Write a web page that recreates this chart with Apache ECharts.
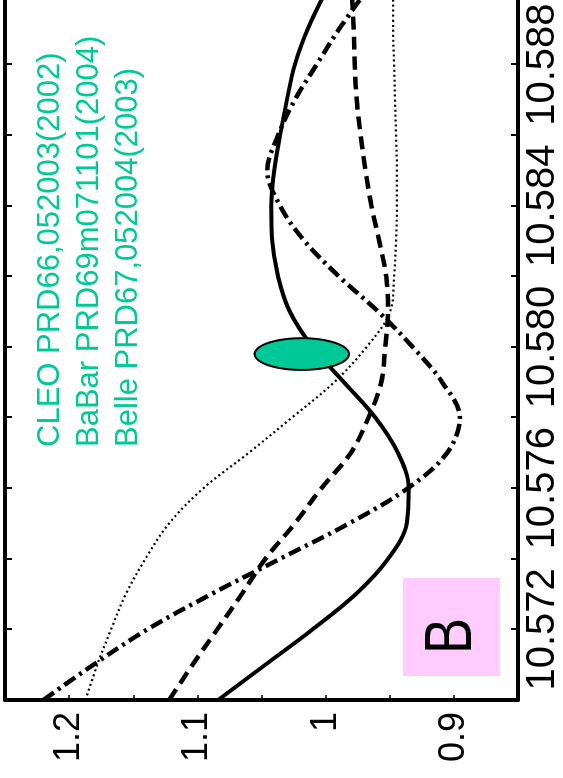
<!DOCTYPE html>
<html>
<head>
<meta charset="utf-8">
<title>Upsilon(4S) line shape</title>
<script src="https://cdn.jsdelivr.net/npm/echarts@6/dist/echarts.min.js"></script>
<style>
  html, body { margin: 0; padding: 0; background: #ffffff; overflow: hidden; width: 563px; height: 778px; }
  /* the plot is laid out landscape and turned a quarter turn counter-clockwise */
  #chart {
    position: absolute; left: 0; top: 0;
    width: 800px; height: 563px;
    transform-origin: 0 0;
    transform: translate(0px, 778px) rotate(-90deg);
  }
</style>
</head>
<body>
<div id="chart"></div>
<script>
// beam energy grid (GeV)
const energies = [10.570, 10.571, 10.572, 10.573, 10.574, 10.575, 10.576, 10.577, 10.578, 10.579,
                  10.580, 10.581, 10.582, 10.583, 10.584, 10.585, 10.586, 10.587, 10.588, 10.589, 10.590];

// model curves, one value per energy
const curveSolid   = [1.0838, 1.0470, 1.0102, 0.9765, 0.9513, 0.9367, 0.9352, 0.9436, 0.9612, 0.9857,
                      1.0102, 1.0279, 1.0371, 1.0416, 1.0424, 1.0401, 1.0355, 1.0302, 1.0240, 1.0141, 1.0010];
const curveDashed  = [1.1221, 1.1037, 1.0845, 1.0654, 1.0470, 1.0240, 1.0033, 0.9804, 0.9666, 0.9566,
                      0.9536, 0.9513, 0.9528, 0.9582, 0.9643, 0.9689, 0.9727, 0.9758, 0.9773, 0.9781, 0.9796];
const curveDashDot = [1.2201, 1.1810, 1.1390, 1.0891, 1.0355, 0.9819, 0.9359, 0.9053, 0.8953, 0.9091,
                      0.9321, 0.9589, 0.9896, 1.0164, 1.0355, 1.0455, 1.0370, 1.0240, 1.0070, 0.9896, 0.9700];
const curveDotted  = [1.1872, 1.1780, 1.1673, 1.1558, 1.1405, 1.1221, 1.0953, 1.0600, 1.0263, 0.9934,
                      0.9681, 0.9497, 0.9466, 0.9451, 0.9444, 0.9444, 0.9451, 0.9459, 0.9466, 0.9474, 0.9474];

// measured point: [energy, ratio, half-width in energy, half-height in ratio]
const measurement = [10.5798, 1.0186, 0.00045, 0.0368];

// axis ranges and labelled ticks
const energyRange = [10.570, 10.590];
const energyStep = 0.002;
const energyLabels = [10.572, 10.576, 10.580, 10.584, 10.588];
const ratioRange = [0.85, 1.25];
const ratioStep = 0.05;
const ratioLabels = [0.9, 1.0, 1.1, 1.2];

const references = [
  'CLEO PRD66,052003(2002)',
  'BaBar PRD69m071101(2004)',
  'Belle PRD67,052004(2003)'
];
const panelTag = 'B';

const green = '#00c896';
const pairs = vals => energies.map((e, i) => [e, vals[i]]);

const chart = echarts.init(document.getElementById('chart'), null, { renderer: 'canvas' });

const frameLine = { show: true, onZero: false, lineStyle: { color: '#000', width: 4 } };
const tickIn = (len, w) => ({ show: true, inside: true, length: len, lineStyle: { color: '#000', width: w } });

function lineSeries(vals, type, width) {
  return {
    type: 'line',
    data: pairs(vals),
    smooth: 0.35,
    symbol: 'none',
    clip: true,
    silent: true,
    z: 3,
    lineStyle: { color: '#000', width: width, type: type, cap: 'butt' }
  };
}

chart.setOption({
  animation: false,
  backgroundColor: '#ffffff',
  grid: { left: 78, right: 16, top: 5, bottom: 36, containLabel: false },
  xAxis: [
    {
      type: 'value', position: 'bottom',
      min: energyRange[0], max: energyRange[1], interval: energyStep,
      axisLine: frameLine,
      axisTick: tickIn(7, 2),
      splitLine: { show: false },
      axisLabel: {
        customValues: energyLabels,
        formatter: v => v.toFixed(3),
        fontFamily: 'Liberation Sans', fontSize: 40, color: '#000', margin: 5
      }
    },
    {
      type: 'value', position: 'top',
      min: energyRange[0], max: energyRange[1], interval: energyStep,
      axisLine: frameLine,
      axisTick: tickIn(7, 2),
      splitLine: { show: false },
      axisLabel: { show: false }
    }
  ],
  yAxis: [
    {
      type: 'value', position: 'left',
      min: ratioRange[0], max: ratioRange[1], interval: ratioStep,
      axisLine: frameLine,
      axisTick: tickIn(5, 1.5),
      splitLine: { show: false },
      axisLabel: {
        customValues: ratioLabels,
        formatter: v => String(+v.toFixed(2)),
        fontFamily: 'Liberation Sans', fontSize: 36, color: '#000', margin: 12
      }
    },
    {
      type: 'value', position: 'right',
      min: ratioRange[0], max: ratioRange[1], interval: ratioStep,
      axisLine: frameLine,
      axisTick: tickIn(5, 1.5),
      splitLine: { show: false },
      axisLabel: { show: false }
    }
  ],
  series: [
    lineSeries(curveDotted, [2, 3], 2.2),
    lineSeries(curveDashDot, [13, 5, 3, 5], 4.5),
    lineSeries(curveDashed, [13, 7], 4.5),
    lineSeries(curveSolid, 'solid', 4),
    {
      type: 'custom',
      data: [measurement],
      z: 5,
      silent: true,
      renderItem: (params, api) => {
        const e0 = api.value(0), r0 = api.value(1), de = api.value(2), dr = api.value(3);
        const pts = [];
        for (let k = 0; k < 72; k++) {
          const t = k / 72 * Math.PI * 2;
          pts.push(api.coord([e0 + de * Math.cos(t), r0 + dr * Math.sin(t)]));
        }
        return {
          type: 'polygon',
          shape: { points: pts },
          style: { fill: green, stroke: '#000', lineWidth: 2 }
        };
      }
    }
  ],
  graphic: [
    ...references.map((txt, i) => ({
      type: 'text',
      x: 331, y: 50 + i * 39,
      z: 10,
      style: {
        text: txt, fill: green,
        font: '31px "Liberation Sans"',
        align: 'left', verticalAlign: 'middle'
      }
    })),
    {
      type: 'rect',
      shape: { x: 102, y: 403, width: 98, height: 97 },
      style: { fill: '#ffccff' },
      z: 10
    },
    {
      type: 'text',
      x: 142, y: 453, scaleX: 0.82,
      z: 11,
      style: {
        text: panelTag, fill: '#000',
        font: '66px "Liberation Sans"',
        align: 'center', verticalAlign: 'middle'
      }
    }
  ]
});
</script>
</body>
</html>
